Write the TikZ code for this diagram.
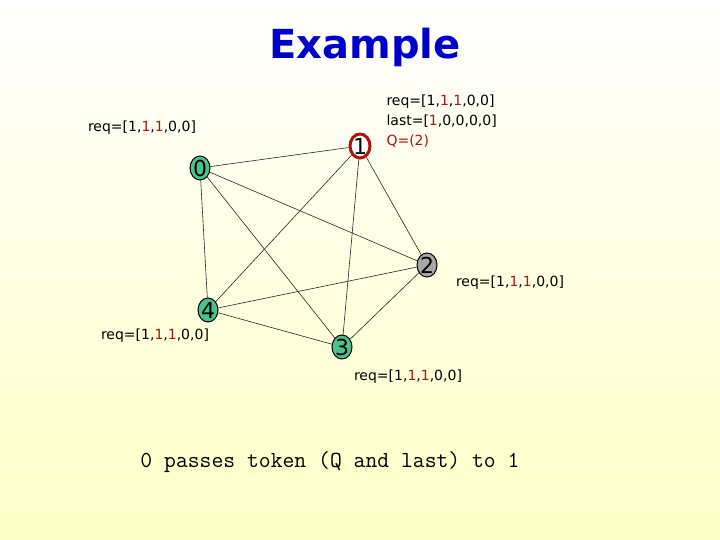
\documentclass[tikz,border=0pt]{standalone}
\usepackage{fontspec}
\setmainfont{DejaVu Sans}
\begin{document}
\begin{tikzpicture}[x=1pt,y=-1pt,
  nd/.style={ellipse,draw=black,line width=1pt,inner sep=0pt,minimum width=20pt,minimum height=24pt,font=\fontsize{22}{22}\selectfont},
  gr/.style={nd,fill=teal!70!green!70},
  lab/.style={font=\fontsize{14}{20}\selectfont,align=left},
  ed/.style={draw=black!85,line width=0.6pt}]
\usetikzlibrary{shapes.geometric}
\definecolor{rr}{RGB}{170,20,20}
\shade[top color=white,bottom color=yellow!22] (0,0) rectangle (720,540);
\useasboundingbox (0,0) rectangle (720,540);
\node[font=\bfseries\fontsize{40}{40}\selectfont,text=blue!80!black] (t) at (365,47) {Example};
\node[gr] (n0) at (200,168) {0};
\node[nd,fill=white,draw=rr,line width=3pt] (n1) at (360,146) {1};
\node[nd,fill=black!35] (n2) at (427,265) {2};
\node[gr] (n3) at (342,347) {3};
\node[gr] (n4) at (208,310) {4};
\foreach \a/\b in {0/1,0/2,0/3,0/4,1/2,1/3,1/4,2/3,2/4,3/4}
  \draw[ed] (n\a) -- (n\b);
\node[lab] (l0) at (142,128) {req=[1,\textcolor{rr}{1},\textcolor{rr}{1},0,0]};
\node[lab,anchor=west] (l1) at (383,121) {req=[1,\textcolor{rr}{1},\textcolor{rr}{1},0,0]\\last=[\textcolor{rr}{1},0,0,0,0]\\\textcolor{rr}{Q=(2)}};
\node[lab] (l2) at (510,283) {req=[1,\textcolor{rr}{1},\textcolor{rr}{1},0,0]};
\node[lab] (l4) at (155,336) {req=[1,\textcolor{rr}{1},\textcolor{rr}{1},0,0]};
\node[lab] (l3) at (408,377) {req=[1,\textcolor{rr}{1},\textcolor{rr}{1},0,0]};
\node[font=\ttfamily\fontsize{23}{23}\selectfont] (cap) at (330,462) {0 passes token (Q and last) to 1};
\end{tikzpicture}
\end{document}
